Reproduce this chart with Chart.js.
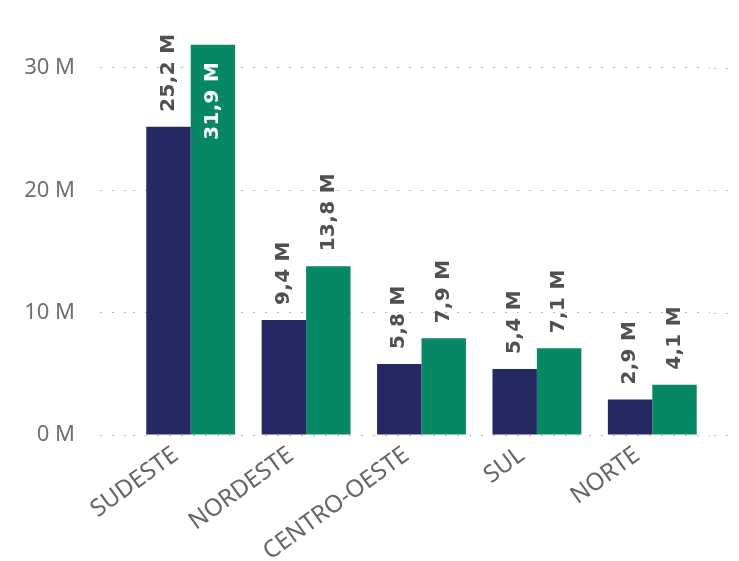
<!DOCTYPE html>
<html>
<head>
<meta charset="utf-8">
<script src="https://cdn.jsdelivr.net/npm/chart.js@4/dist/chart.umd.min.js"></script>
<style>
  html, body { margin: 0; padding: 0; background: #fff; }
  #wrap { width: 739px; height: 561px; }
</style>
</head>
<body>
<div id="wrap"><canvas id="regioesChart"></canvas></div>
<script>
// valores em milhoes
var regioes = ['SUDESTE', 'NORDESTE', 'CENTRO-OESTE', 'SUL', 'NORTE'];
var serieAzul = [25.2, 9.4, 5.8, 5.4, 2.9];
var serieVerde = [31.9, 13.8, 7.9, 7.1, 4.1];
var yTicks = [0, 10, 20, 30];

var corAzul = '#252862';
var corVerde = '#078764';
var corGrade = '#b8b8b8';

function fmtM(v) {
  return v.toFixed(1).replace('.', ',') + ' M';
}

// rotulos de dados na vertical, por cima da barra (ou dentro se nao couber)
var rotulosPlugin = {
  id: 'rotulos',
  afterDatasetsDraw: function(chart) {
    var ctx = chart.ctx;
    ctx.save();
    ctx.font = 'bold 20px "DejaVu Sans"';
    ctx.letterSpacing = '0.3px';
    ctx.textBaseline = 'middle';
    chart.data.datasets.forEach(function(ds, i) {
      var meta = chart.getDatasetMeta(i);
      meta.data.forEach(function(bar, j) {
        var txt = fmtM(ds.data[j]);
        var w = ctx.measureText(txt).width;
        var gap = 15;
        ctx.save();
        if (bar.y - gap - w >= 0) {
          ctx.translate(bar.x, bar.y - gap);
          ctx.rotate(-Math.PI / 2);
          ctx.textAlign = 'left';
          ctx.fillStyle = '#505050';
        } else {
          ctx.translate(bar.x, bar.y + 17);
          ctx.rotate(-Math.PI / 2);
          ctx.textAlign = 'right';
          ctx.fillStyle = '#ffffff';
        }
        ctx.fillText(txt, 0, 0);
        ctx.restore();
      });
    });
    ctx.restore();
  }
};

// a grade pontilhada passa um pouco alem da area do grafico a direita
var gradePlugin = {
  id: 'gradeExtra',
  beforeDatasetsDraw: function(chart) {
    var ctx = chart.ctx;
    var y = chart.scales.y;
    var area = chart.chartArea;
    ctx.save();
    ctx.strokeStyle = corGrade;
    ctx.lineWidth = 1;
    ctx.setLineDash([2, 10]);
    y.ticks.forEach(function(t) {
      var py = Math.round(y.getPixelForValue(t.value)) + 0.5;
      ctx.beginPath();
      ctx.moveTo(area.right + 4, py);
      ctx.lineTo(chart.width - 4, py);
      ctx.stroke();
    });
    ctx.restore();
  }
};

var ctx = document.getElementById('regioesChart').getContext('2d');
var chart = new Chart(ctx, {
  type: 'bar',
  data: {
    labels: regioes,
    datasets: [
      { label: 'Série 1', data: serieAzul, backgroundColor: corAzul, borderWidth: 0 },
      { label: 'Série 2', data: serieVerde, backgroundColor: corVerde, borderWidth: 0 }
    ]
  },
  plugins: [rotulosPlugin, gradePlugin],
  options: {
    responsive: true,
    maintainAspectRatio: false,
    animation: false,
    layout: { padding: { top: 19, right: 29, left: 0, bottom: 0 } },
    datasets: {
      bar: { categoryPercentage: 0.77, barPercentage: 1.0 }
    },
    plugins: {
      legend: { display: false },
      tooltip: { enabled: false }
    },
    scales: {
      x: {
        grid: { display: false, drawTicks: false },
        border: { display: false },
        ticks: {
          minRotation: 36,
          maxRotation: 36,
          padding: 6,
          labelOffset: -15,
          color: '#666666',
          font: { family: 'Noto Sans', size: 24 }
        },
        afterFit: function(s) { s.height = 126; s.paddingLeft = 0; s.paddingRight = 0; }
      },
      y: {
        min: 0,
        max: 34,
        afterBuildTicks: function(s) {
          s.ticks = yTicks.map(function(v) { return { value: v }; });
        },
        afterFit: function(s) { s.width = 133; s.paddingTop = 0; s.paddingBottom = 0; },
        border: { display: false, dash: [2, 10] },
        grid: {
          color: corGrade,
          tickColor: corGrade,
          tickBorderDash: [2, 10],
          tickLength: 33
        },
        ticks: {
          padding: 25,
          color: '#707070',
          font: { family: 'Noto Sans', size: 22 },
          callback: function(v) { return v + ' M'; }
        }
      }
    }
  }
});
</script>
</body>
</html>
